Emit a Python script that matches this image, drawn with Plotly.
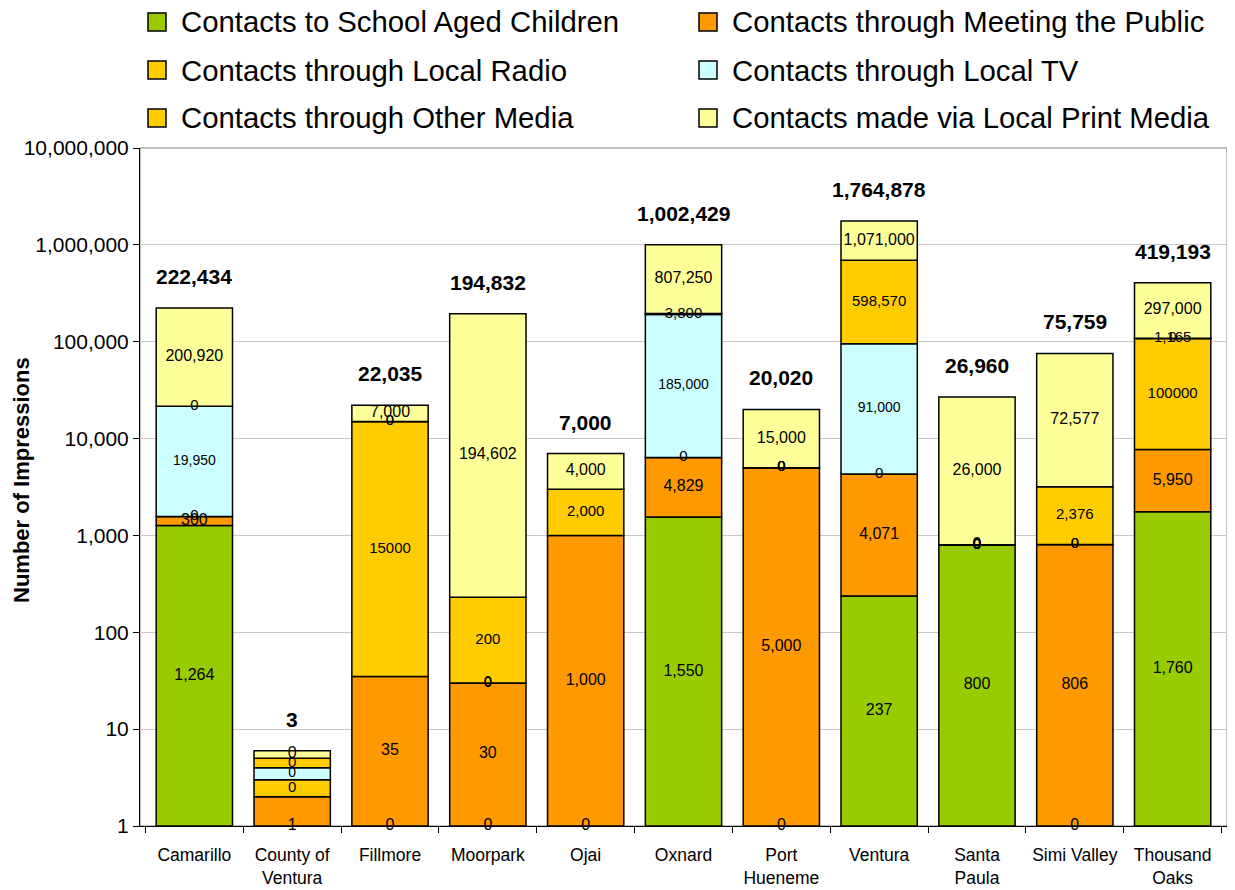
import math
import plotly.graph_objects as go

# ---------------- data ----------------
categories = ["Camarillo", "County of<br>Ventura", "Fillmore", "Moorpark", "Ojai", "Oxnard",
              "Port<br>Hueneme", "Ventura", "Santa<br>Paula", "Simi Valley", "Thousand<br>Oaks"]

series_names = ["Contacts to School Aged Children", "Contacts through Meeting the Public",
                "Contacts through Local Radio", "Contacts through Local TV",
                "Contacts through Other Media", "Contacts made via Local Print Media"]

school_values = [1264, 1, 0, 0, 0, 1550, 0, 237, 800, 0, 1760]
school_labels = ["1,264", "1", "0", "0", "0", "1,550", "0", "237", "800", "0", "1,760"]

public_values = [300, 1, 35, 30, 1000, 4829, 5000, 4071, 0, 806, 5950]
public_labels = ["300", "", "35", "30", "1,000", "4,829", "5,000", "4,071", "0", "806", "5,950"]

radio_values = [0, 1, 15000, 0, 2000, 0, 0, 0, 0, 0, 100000]
radio_labels = ["0", "0", "15000", "0", "2,000", "0", "0", "0", "0", "0", "100000"]

tv_values = [19950, 1, 0, 0, None, 185000, 0, 91000, 0, 0, 0]
tv_labels = ["19,950", "0", "0", "0", "", "185,000", "0", "91,000", "0", "0", "0"]

other_values = [0, 1, 0, 200, None, 3800, 0, 598570, 0, 2376, 1165]
other_labels = ["0", "0", "0", "200", "", "3,800", "0", "598,570", "0", "2,376", "1,165"]

print_values = [200920, 1, 7000, 194602, 4000, 807250, 15000, 1071000, 26000, 72577, 297000]
print_labels = ["200,920", "0", "7,000", "194,602", "4,000", "807,250", "15,000", "1,071,000",
                "26,000", "72,577", "297,000"]

total_values = [222434, 3, 22035, 194832, 7000, 1002429, 20020, 1764878, 26960, 75759, 419193]

# ---------------- styling / layout ----------------
colors = ["#99CC00", "#FF9900", "#FFCC00", "#CCFFFF", "#FFCC00", "#FFFF99"]
label_sizes = [16, 16, 15, 14, 15, 16]
FONT = "Liberation Sans, Arial, sans-serif"

# the page body keeps its default 8px margin, so figure pixels = page pixels - 8
W, H = 1235, 890
ML, MR, MT, MB = 132, 16, 140, 72
PW, PH = W - ML - MR, H - MT - MB


def px2x(px):
    return (px - ML) / PW


def py2y(py):
    return 1 - (py - MT) / PH


all_values = [school_values, public_values, radio_values, tv_values, other_values, print_values]
all_labels = [school_labels, public_labels, radio_labels, tv_labels, other_labels, print_labels]

fig = go.Figure()

cum = [0.0] * len(categories)
for name, vals, labs, col, fs in zip(series_names, all_values, all_labels, colors, label_sizes):
    bases, heights, lx, ly, lt = [], [], [], [], []
    for i, v in enumerate(vals):
        val = v if v is not None else 0
        bottom = cum[i]
        top = cum[i] + val
        b = max(bottom, 1.0)
        t = max(top, 1.0)
        bases.append(b)
        heights.append(t - b)
        if v is not None and labs[i] != "":
            lx.append(categories[i])
            ly.append(math.sqrt(b * t))
            lt.append(labs[i])
        cum[i] = top
    fig.add_trace(go.Bar(
        x=categories, y=heights, base=bases, name=name,
        marker=dict(color=col, line=dict(color="black", width=1.5)),
        hoverinfo="skip", showlegend=False,
    ))
    fig.add_trace(go.Scatter(
        x=lx, y=ly, text=lt, mode="text", showlegend=False,
        textfont=dict(family=FONT, size=fs, color="black"),
        textposition="middle center", cliponaxis=False, hoverinfo="skip",
    ))

# totals above bars
for i, cat in enumerate(categories):
    fig.add_annotation(
        x=cat, y=math.log10(max(cum[i], 1.0)), xref="x", yref="y",
        text=f"<b>{total_values[i]:,}</b>", showarrow=False,
        yanchor="bottom", yshift=18,
        font=dict(family=FONT, size=21, color="black"),
    )

# legend (two columns, three rows)
legend_text_x = [171, 722]
legend_row_y = [14, 62, 110]
for k, (name, col) in enumerate(zip(series_names, colors)):
    r, c = divmod(k, 2)
    tx, ty = legend_text_x[c], legend_row_y[r]
    fig.add_shape(type="rect", xref="paper", yref="paper",
                  x0=px2x(tx - 31), x1=px2x(tx - 13), y0=py2y(ty + 9), y1=py2y(ty - 9),
                  fillcolor=col, line=dict(color="black", width=1.5))
    fig.add_annotation(x=px2x(tx), y=py2y(ty), xref="paper", yref="paper",
                       text=name, showarrow=False, xanchor="left", yanchor="middle",
                       font=dict(family=FONT, size=29.3, color="black"))

# y-axis title
fig.add_annotation(
    x=px2x(13), y=py2y(472), xref="paper", yref="paper",
    text="<b>Number of Impressions</b>", textangle=-90, showarrow=False,
    xanchor="center", yanchor="middle",
    font=dict(family=FONT, size=22, color="black"),
)

# plot-area frame (gray border)
fig.add_shape(type="rect", xref="paper", yref="paper", x0=0, x1=1, y0=0, y1=1,
              line=dict(color="#808080", width=1), layer="below")

fig.update_layout(
    width=W, height=H,
    margin=dict(l=ML, r=MR, t=MT, b=MB, autoexpand=False),
    paper_bgcolor="white", plot_bgcolor="white",
    barmode="overlay", bargap=0.22,
    font=dict(family=FONT, color="black"),
    showlegend=False,
    xaxis=dict(
        type="category", showgrid=False, showline=True, linecolor="black", linewidth=1,
        ticks="outside", tickson="boundaries", ticklen=6, tickcolor="black",
        tickfont=dict(family=FONT, size=17.5, color="black"), ticklabelstandoff=13,
    ),
    yaxis=dict(
        type="log", range=[0, 7], dtick=1, tickformat=",d",
        showgrid=True, gridcolor="#C8C8C8", gridwidth=1,
        showline=True, linecolor="black", linewidth=1,
        ticks="outside", ticklen=6, tickcolor="black",
        tickfont=dict(family=FONT, size=21, color="black"),
        zeroline=False,
    ),
)

fig.write_html("out.html")
